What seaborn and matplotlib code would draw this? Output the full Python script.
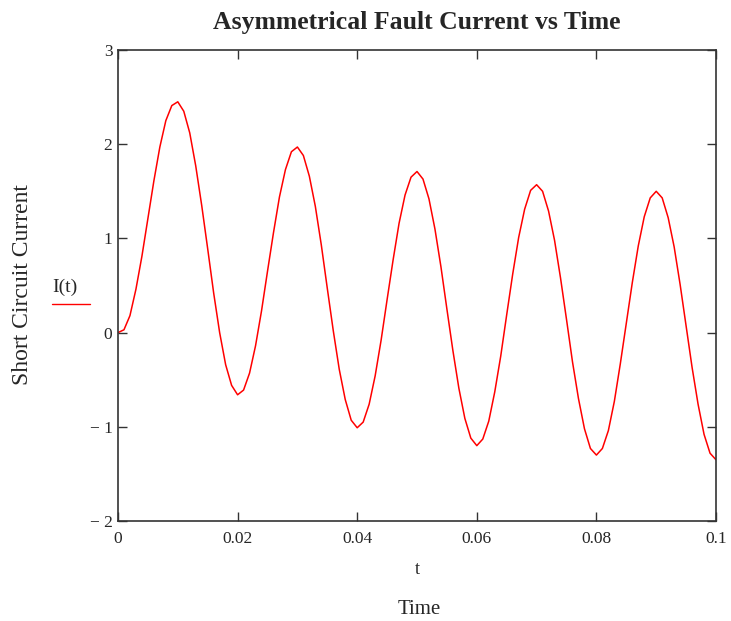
import numpy as np
import pandas as pd
import seaborn as sns
import matplotlib
matplotlib.use("Agg")
import matplotlib.pyplot as plt
from matplotlib.lines import Line2D

# Dados (amostras a cada 1 ms, de 0 a 0.1 s)
tempo = np.linspace(0, 0.1, 101)
corrente = [
    0.00, 0.03, 0.18, 0.46, 0.81, 1.21, 1.61, 1.97, 2.25, 2.41,
    2.45, 2.35, 2.12, 1.77, 1.35, 0.89, 0.42, 0.00, -0.34, -0.56,
    -0.66, -0.61, -0.43, -0.14, 0.23, 0.65, 1.06, 1.44, 1.73, 1.92,
    1.97, 1.88, 1.66, 1.34, 0.93, 0.47, 0.02, -0.39, -0.71, -0.93,
    -1.01, -0.95, -0.76, -0.46, -0.08, 0.35, 0.77, 1.16, 1.46, 1.65,
    1.71, 1.63, 1.42, 1.10, 0.70, 0.25, -0.19, -0.59, -0.91, -1.12,
    -1.20, -1.13, -0.94, -0.63, -0.25, 0.19, 0.62, 1.01, 1.31, 1.51,
    1.57, 1.50, 1.29, 0.98, 0.58, 0.14, -0.31, -0.70, -1.02, -1.23,
    -1.30, -1.23, -1.04, -0.73, -0.33, 0.10, 0.53, 0.92, 1.23, 1.43,
    1.50, 1.43, 1.22, 0.91, 0.51, 0.07, -0.37, -0.76, -1.08, -1.28,
    -1.35,
]
x_ticks = [0, 0.02, 0.04, 0.06, 0.08, 0.1]
x_tick_labels = ["0", "0.02", "0.04", "0.06", "0.08", "0.1"]
y_ticks = [-2, -1, 0, 1, 2, 3]

dados = pd.DataFrame({"t": tempo, "I": corrente})

sns.set_style("ticks")
plt.rcParams["font.family"] = ["Liberation Serif", "DejaVu Serif"]

fig = plt.figure(figsize=(7.31, 6.21), dpi=100)
ax = fig.add_axes([0.1614, 0.161, 0.8181, 0.7585])

sns.lineplot(data=dados, x="t", y="I", color="#ff0000", linewidth=1.1, ax=ax)

ax.set_xlim(0, 0.1)
ax.set_ylim(-2, 3)
ax.set_xticks(x_ticks)
ax.set_xticklabels(x_tick_labels)
ax.set_yticks(y_ticks)
ax.set_yticklabels([str(v).replace("-", "\u2212 ") for v in y_ticks])
ax.tick_params(direction="in", top=True, right=True, length=6.5, width=1,
               color="#333333", labelsize=12.5, pad=4)
ax.tick_params(axis="x", pad=7)
for s in ax.spines.values():
    s.set_color("#333333")
    s.set_linewidth(1.2)

ax.set_xlabel("t", fontsize=13, labelpad=10)
ax.set_ylabel("")
fig.text(0.5734, 0.004, "Time", ha="center", va="bottom", fontsize=15)
fig.text(0.031, 0.541, "Short Circuit Current", rotation=90, ha="center",
         va="center", fontsize=17)
fig.suptitle("Asymmetrical Fault Current vs Time", x=0.57, y=0.963,
             va="center", fontsize=18.5, fontweight="bold")

# Rótulo da curva (estilo Mathcad)
fig.text(0.0715, 0.523, "I(t)", ha="left", va="bottom", fontsize=14)
fig.add_artist(Line2D([0.071, 0.123], [0.511, 0.511], color="#ff0000",
                      linewidth=1.0, transform=fig.transFigure))

plt.savefig("out.png", dpi=100)
